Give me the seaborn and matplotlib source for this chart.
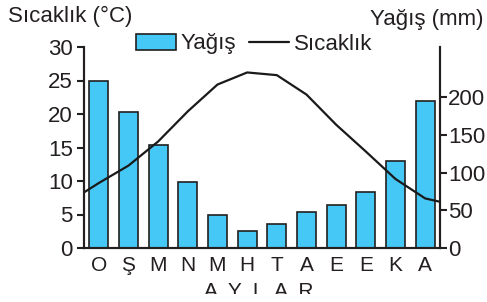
import matplotlib
matplotlib.use("Agg")
import matplotlib.pyplot as plt
from matplotlib.transforms import Bbox, TransformedBbox
import numpy as np
import pandas as pd
import seaborn as sns

# Monthly climate data
months = ["Ocak", "Şubat", "Mart", "Nisan", "Mayıs", "Haziran",
          "Temmuz", "Ağustos", "Eylül", "Ekim", "Kasım", "Aralık"]
month_labels = ["O", "Ş", "M", "N", "M", "H", "T", "A", "E", "E", "K", "A"]
rain_mm = [221, 180, 136, 87, 44, 23, 32, 48, 57, 74, 116, 195]
temp_c = [9.7, 12.3, 15.9, 20.4, 24.4, 26.2, 25.8, 22.9, 18.4, 14.4, 10.3, 7.4]
# temperature at the left / right edges of the plot
temp_start = 8.3
temp_end = 6.9

temp_ticks = [0, 5, 10, 15, 20, 25, 30]
rain_ticks = [0, 50, 100, 150, 200]

BAR_COLOR = "#45c8f5"
INK = "#231f20"

sns.set_style("white")
plt.rcParams["font.family"] = ["Liberation Sans", "DejaVu Sans"]
plt.rcParams["text.color"] = INK
plt.rcParams["xtick.color"] = INK
plt.rcParams["ytick.color"] = INK

df = pd.DataFrame({"month": months, "rain": rain_mm})

fig = plt.figure(figsize=(4.87, 3.02), dpi=100)
ax = fig.add_axes([84 / 487, 1 - 248 / 302, (440 - 84) / 487, (248 - 47) / 302])
ax2 = ax.twinx()

# precipitation bars (right axis, mm)
sns.barplot(data=df, x="month", y="rain", order=months, color=BAR_COLOR,
            saturation=1, width=0.63, edgecolor=INK, linewidth=1.2, ax=ax)
ax.set_ylim(0, 30 * 200 / 22.5)
ax.set_xlim(-0.5, len(months) - 0.5)
ax.set_xticks(range(len(months)))
ax.set_xticklabels(month_labels)
ax.set_xticks(np.arange(len(months) + 1) - 0.5, minor=True)
ax.tick_params(axis="x", which="major", length=0, pad=6, labelsize=15)
ax.tick_params(axis="x", which="minor", direction="inout", length=6,
               width=1.5, color=INK)
ax.set_xlabel("")
ax.set_ylabel("")

# temperature line (left axis, °C)
line_x = [-0.5] + list(range(len(months))) + [len(months) - 0.5]
line_y = [temp_start] + temp_c + [temp_end]
sns.lineplot(x=line_x, y=line_y, color="#1a1a1a", linewidth=1.6, ax=ax2)
ax2.set_ylim(0, 30)
ax2.set_ylabel("")

# swap sides: mm on the right, °C on the left
ax.yaxis.tick_right()
ax.set_yticks(rain_ticks)
ax.tick_params(axis="y", direction="out", length=5, width=1.5, pad=1,
               labelsize=16, color=INK)
ax2.yaxis.tick_left()
ax2.set_yticks(temp_ticks)
ax2.tick_params(axis="y", direction="out", length=5, width=1.5, pad=3,
                labelsize=16, color=INK)

for a in (ax, ax2):
    a.spines["top"].set_visible(False)
    for s in ("left", "right", "bottom"):
        a.spines[s].set_color(INK)
        a.spines[s].set_linewidth(1.5)

fig.text(8 / 487, 1 - 16 / 302, "Sıcaklık (°C)", fontsize=16,
         ha="left", va="center")
fig.text(484 / 487, 1 - 20 / 302, "Yağış (mm)", fontsize=16,
         ha="right", va="center")

# legend
bar_handle = plt.Rectangle((0, 0), 1, 1, facecolor=BAR_COLOR,
                           edgecolor=INK, linewidth=1.2)
line_handle = plt.Line2D([], [], color="#1a1a1a", linewidth=1.6)
fig.legend([bar_handle, line_handle], ["Yağış", "Sıcaklık"], ncol=2,
           loc="center", bbox_to_anchor=(254 / 487, 1 - 44 / 302),
           frameon=False, fontsize=16, handlelength=1.8, handleheight=0.7,
           handletextpad=0.2, columnspacing=0.6, borderpad=0)

# x-axis title, cut off at the bottom like in the source image
t = fig.text(259 / 487, 1 - 297 / 302, "A  Y  L  A  R", fontsize=15,
             ha="center", va="baseline")
t.set_clip_box(TransformedBbox(Bbox.from_extents(0, 8 / 302, 1, 1),
                               fig.transFigure))
t.set_clip_on(True)

fig.savefig("out.png", dpi=100)
